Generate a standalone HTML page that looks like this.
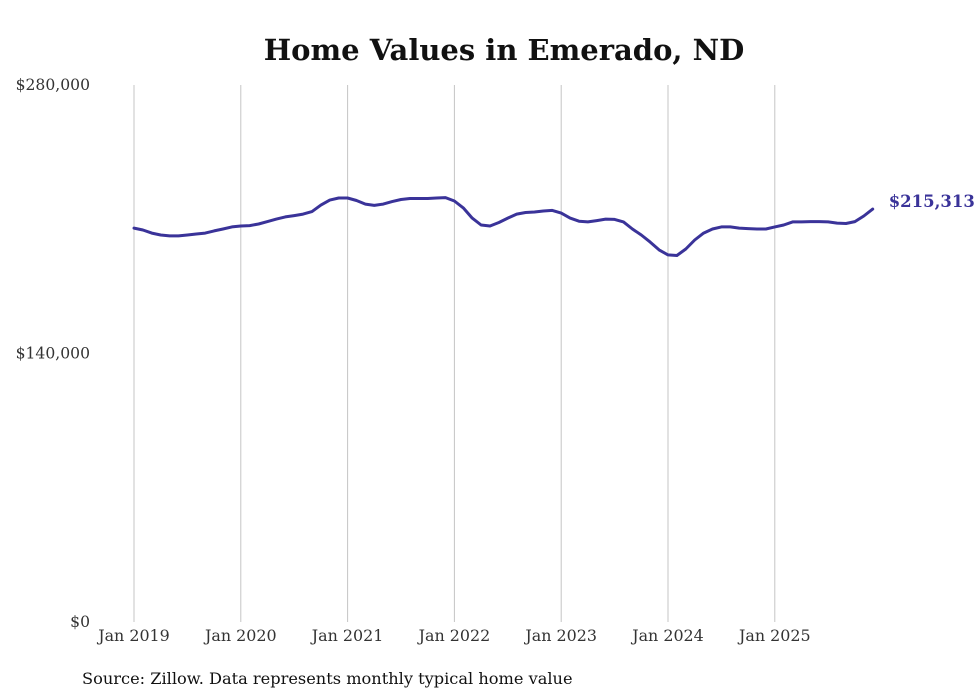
<!DOCTYPE html>
<html><head><meta charset="utf-8"><style>
body{margin:0;background:#fff;}
svg{display:block;font-family:"DejaVu Serif","Liberation Serif",serif;}
</style></head><body>
<svg width="980" height="699" id="chart">
<text x="504" y="60" text-anchor="middle" font-size="29" font-weight="bold" fill="#111">Home Values in Emerado, ND</text>
<g id="grid"></g><g id="yaxis"></g><g id="xaxis"></g><g id="series"></g>
<text x="82" y="684" font-size="16.2" fill="#111">Source: Zillow. Data represents monthly typical home value</text>
</svg>
<script>
const yTicks=[0,140000,280000];
const yTickLabels=["$0","$140,000","$280,000"];
const xTickYears=[2019,2020,2021,2022,2023,2024,2025];
const xTickLabels=["Jan 2019","Jan 2020","Jan 2021","Jan 2022","Jan 2023","Jan 2024","Jan 2025"];
const startYear=2019;
const values=[
205.4,204.4,202.8,201.8,201.3,201.3,201.8,202.3,202.8,203.9,204.9,206.0,
206.5,206.7,207.5,208.8,210.1,211.2,211.9,212.7,214.0,217.4,220.0,221.1,
221.1,219.8,217.9,217.2,217.9,219.2,220.3,220.8,220.8,220.8,221.1,221.3,
219.5,215.9,210.6,207.0,206.5,208.3,210.6,212.7,213.5,213.8,214.3,214.6,
213.2,210.6,209.0,208.6,209.3,210.1,209.9,208.6,204.9,201.8,198.1,194.0,
191.4,191.1,194.5,199.2,202.8,204.9,206.0,206.0,205.4,205.1,204.9,204.9,
206.0,207.0,208.6,208.6,208.8,208.8,208.6,208.0,207.8,208.8,211.7,215.313
].map(v=>v*1000);
const lastLabel="$215,313";
const NS="http://www.w3.org/2000/svg";
const X0=134,XPY=106.8,Y0=622,Y1=85;
const x=m=>X0+m*XPY/12;
const y=v=>Y0-(v/280000)*(Y0-Y1);
function mk(tag,attrs,parent,text){const e=document.createElementNS(NS,tag);for(const k in attrs)e.setAttribute(k,attrs[k]);if(text!==undefined)e.textContent=text;document.getElementById(parent).appendChild(e);return e;}
xTickYears.forEach((yr,i)=>{
 const xx=x((yr-startYear)*12);
 const l=mk('line',{x1:xx,x2:xx,y1:Y1,y2:Y0,stroke:'#c4c4c4','stroke-width':1},'grid');
 
 
 const t=mk('text',{x:xx,y:641,'text-anchor':'middle','font-size':15.9,fill:'#333'},'xaxis',xTickLabels[i]);
 
 
});
yTicks.forEach((v,i)=>{
 const t=mk('text',{x:90,y:y(v)+5,'text-anchor':'end','font-size':15.6,fill:'#333'},'yaxis',yTickLabels[i]);
 
 
});
const d=values.map((v,i)=>(i?'L':'M')+x(i).toFixed(1)+','+y(v).toFixed(1)).join(' ');
const p=mk('path',{d:d,fill:'none',stroke:'#3a3399','stroke-width':3,'stroke-linejoin':'round','stroke-linecap':'round'},'series');


const li=values.length-1;
const lt=mk('text',{x:x(li)+16,y:y(values[li])-2,'font-size':16.5,'font-weight':'bold',fill:'#3a3399'},'series',lastLabel);


</script>
</body></html>
